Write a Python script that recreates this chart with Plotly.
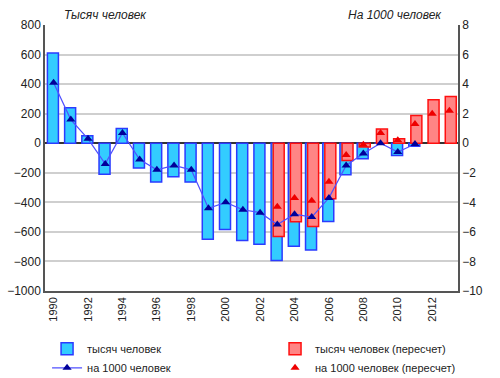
import plotly.graph_objects as go

years = list(range(1990, 2014))
thous = [610, 240, 50, -210, 100, -168, -263, -227, -263, -650, -584, -659, -684, -794,
         -697, -722, -530, -214, -105, 0, -83, -20, None, None]
years_rec = list(range(2003, 2014))
thous_rec = [-632, -532, -564, -376, -117, -25, 96, 30, 188, 295, 317]
per1000 = [4.1, 1.6, 0.3, -1.4, 0.7, -1.1, -1.8, -1.5, -1.8, -4.4, -4.0, -4.5, -4.7, -5.5,
           -4.8, -5.0, -3.7, -1.5, -0.7, 0.0, -0.6, -0.05]
years_line = years[:len(per1000)]
per1000_rec = [-4.3, -3.7, -3.9, -2.6, -0.8, -0.1, 0.7, 0.2, 1.3, 2.0, 2.2]

left_ticks = list(range(-1000, 801, 200))
right_ticks = list(range(-10, 9, 2))
x_ticks = list(range(1990, 2013, 2))

fig = go.Figure()
fig.add_trace(go.Bar(x=years, y=thous, name="тысяч человек", legend="legend",
                     marker=dict(color="#33CCFF", line=dict(color="#2B3BFF", width=1.5)),
                     width=0.64, offset=-0.36))
fig.add_trace(go.Bar(x=years_rec, y=thous_rec, name="тысяч человек (пересчет)", legend="legend2",
                     marker=dict(color="#FF8585", line=dict(color="#FF1010", width=1.5)),
                     width=0.64, offset=-0.24))
fig.add_trace(go.Scatter(x=years_line, y=per1000, name="на 1000 человек", yaxis="y2",
                         legend="legend", mode="lines+markers",
                         line=dict(color="#5050FF", width=1.2),
                         marker=dict(symbol="triangle-up", size=8, color="#00009A")))
fig.add_trace(go.Scatter(x=years_rec, y=per1000_rec, name="на 1000 человек (пересчет)", yaxis="y2",
                         legend="legend2", mode="markers",
                         marker=dict(symbol="triangle-up", size=8, color="#EE0000")))

legend_common = dict(orientation="v", y=-0.163, xanchor="left", yanchor="top",
                     font=dict(size=11), traceorder="normal", tracegroupgap=0,
                     bgcolor="rgba(0,0,0,0)")

fig.update_layout(
    width=500, height=378,
    margin=dict(l=45, r=42, t=25, b=87, autoexpand=False),
    paper_bgcolor="white", plot_bgcolor="white",
    barmode="overlay",
    font=dict(family="Liberation Sans, Arial, sans-serif", size=11, color="#222222"),
    xaxis=dict(range=[1989.5, 2013.5], tickmode="array", tickvals=x_ticks,
               ticktext=[str(y) for y in x_ticks], tickangle=-90,
               showline=True, linecolor="#555555", linewidth=1.5, mirror=False,
               showgrid=False, zeroline=False, ticks="", tickfont=dict(size=11)),
    yaxis=dict(range=[-1000, 800], tickvals=left_ticks, showgrid=True, gridcolor="#CFCFCF",
               gridwidth=1.5, zeroline=True, zerolinecolor="#333333", zerolinewidth=1.5,
               showline=True, linecolor="#555555", linewidth=1.5, ticks="",
               tickfont=dict(size=12)),
    yaxis2=dict(range=[-10, 8], tickvals=right_ticks, overlaying="y", side="right",
                showgrid=False, zeroline=False, showline=True, linecolor="#555555",
                linewidth=1.5, ticks="", tickfont=dict(size=12)),
    legend=dict(x=0.005, **legend_common),
    legend2=dict(x=0.557, **legend_common),
    showlegend=True,
)
fig.add_annotation(text="<i>Тысяч человек</i>", xref="paper", yref="paper",
                   x=(62 - 45) / 413, y=1 + (25 - 15) / 266, xanchor="left", yanchor="middle",
                   showarrow=False, font=dict(size=12))
fig.add_annotation(text="<i>На 1000 человек</i>", xref="paper", yref="paper",
                   x=(444 - 45) / 413, y=1 + (25 - 15) / 266, xanchor="right", yanchor="middle",
                   showarrow=False, font=dict(size=12))

fig.write_html("out.html", config={"displayModeBar": False},
               post_script="document.body.style.margin='0';document.body.style.overflow='hidden';")
